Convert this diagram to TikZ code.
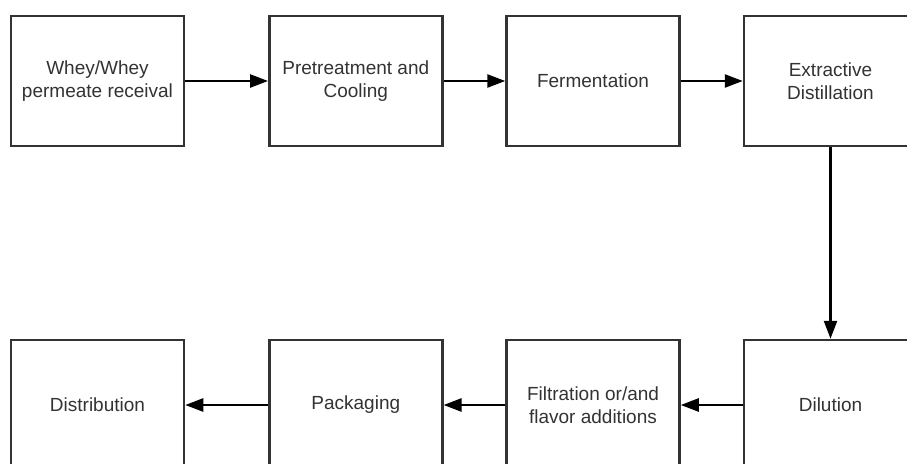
\documentclass[tikz,border=0pt]{standalone}
\usepackage{fontspec}
\setmainfont{Liberation Sans}
\usetikzlibrary{arrows.meta}
\definecolor{ink}{HTML}{333333}
\begin{document}
\begin{tikzpicture}[x=1pt,y=-1pt,
  stepbox/.style={draw=ink, line width=2.5pt, fill=white, text=ink,
    minimum width=173pt, minimum height=130pt, align=center,
    inner sep=0pt, font=\fontsize{19}{23}\selectfont},
  flow/.style={draw=black, line width=2.5pt,
    -{Triangle[length=18pt,width=13pt]}}]
\clip (0,0) rectangle (907,463);
\fill[white] (0,0) rectangle (907,463);
% top row
\node[stepbox] (whey)  at (97.5,81)  {Whey/Whey\\permeate receival};
\node[stepbox] (pre)   at (355.8,81) {Pretreatment and\\Cooling};
\node[stepbox] (ferm)  at (593,81)   {Fermentation};
\node[stepbox] (dist)  at (830.5,81) {Extractive\\Distillation};
% bottom row
\node[stepbox] (dil)   at (830.5,405) {Dilution};
\node[stepbox] (filt)  at (593,405)   {Filtration or/and\\flavor additions};
\node[stepbox] (pack)  at (355.8,405) {Packaging};
\node[stepbox] (distr) at (97.5,405)  {Distribution};
% connectors
\draw[flow] (whey) -- (pre);
\draw[flow] (pre) -- (ferm);
\draw[flow] (ferm) -- (dist);
\draw[flow] (dist) -- (dil);
\draw[flow] (dil) -- (filt);
\draw[flow] (filt) -- (pack);
\draw[flow] (pack) -- (distr);
\end{tikzpicture}
\end{document}
